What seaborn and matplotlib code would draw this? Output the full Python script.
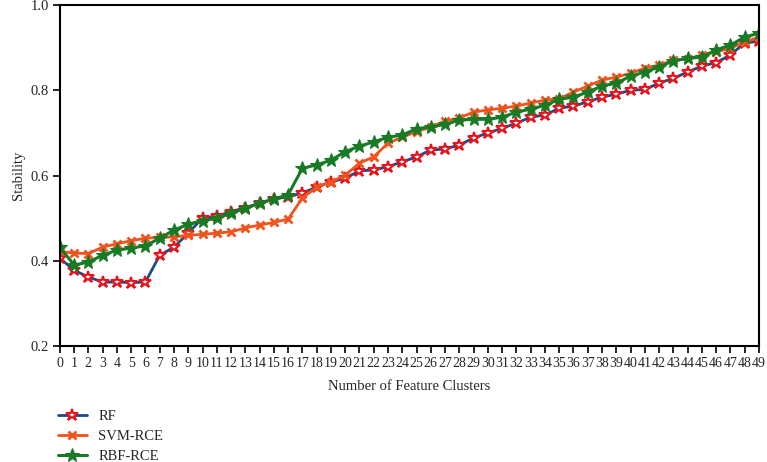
import numpy as np
import pandas as pd
import matplotlib
matplotlib.use("Agg")
import matplotlib.pyplot as plt
import seaborn as sns

clusters = list(range(50))

rf = [0.406, 0.378, 0.362, 0.350, 0.350, 0.349, 0.350, 0.413, 0.432, 0.465,
      0.500, 0.505, 0.515, 0.525, 0.535, 0.545, 0.550, 0.559, 0.573, 0.585,
      0.594, 0.611, 0.613, 0.621, 0.632, 0.644, 0.660, 0.662, 0.672, 0.688,
      0.700, 0.711, 0.723, 0.737, 0.742, 0.758, 0.763, 0.773, 0.784, 0.791,
      0.800, 0.802, 0.817, 0.828, 0.843, 0.857, 0.865, 0.883, 0.911, 0.915]

svm_rce = [0.422, 0.418, 0.417, 0.432, 0.440, 0.447, 0.453, 0.455, 0.456, 0.460,
           0.462, 0.465, 0.468, 0.477, 0.484, 0.490, 0.498, 0.547, 0.573, 0.585,
           0.601, 0.629, 0.644, 0.676, 0.690, 0.703, 0.714, 0.728, 0.735, 0.749,
           0.754, 0.758, 0.763, 0.770, 0.777, 0.780, 0.796, 0.810, 0.824, 0.831,
           0.840, 0.852, 0.859, 0.871, 0.873, 0.883, 0.890, 0.899, 0.913, 0.925]

rbf_rce = [0.432, 0.390, 0.397, 0.413, 0.425, 0.430, 0.435, 0.453, 0.472, 0.486,
           0.494, 0.500, 0.512, 0.523, 0.535, 0.545, 0.555, 0.617, 0.625, 0.636,
           0.656, 0.669, 0.679, 0.690, 0.695, 0.710, 0.714, 0.720, 0.730, 0.732,
           0.732, 0.737, 0.749, 0.756, 0.765, 0.779, 0.784, 0.796, 0.810, 0.817,
           0.833, 0.843, 0.855, 0.869, 0.875, 0.878, 0.895, 0.906, 0.925, 0.934]

sns.set_theme(style="ticks")
plt.rcParams['font.family'] = ['Liberation Serif', 'DejaVu Serif']

fig = plt.figure(figsize=(7.67, 4.62), dpi=100)
ax = fig.add_axes([0.078, 0.251, 0.9115, 0.738])

# RF: blue line with hollow red stars
sns.lineplot(x=clusters, y=rf, ax=ax, color="#1a4b8c", linewidth=2,
             marker="*", markersize=9, markerfacecolor="white",
             markeredgecolor="#e8121c", markeredgewidth=1.5, label="RF")
sns.lineplot(x=clusters, y=svm_rce, ax=ax, color="#f0531c", linewidth=2,
             marker="x", markersize=6, markeredgewidth=2,
             markeredgecolor="#f0531c", label="SVM-RCE")
sns.lineplot(x=clusters, y=rbf_rce, ax=ax, color="#177a25", linewidth=2.2,
             marker="*", markersize=10, markerfacecolor="#177a25",
             markeredgecolor="#177a25", label="RBF-RCE")

ax.set_xlim(0, 49)
ax.set_ylim(0.2, 1.0)
ax.set_xticks(clusters)
ax.set_xticklabels([str(c) for c in clusters], fontsize=10)
ax.set_yticks([0.2, 0.4, 0.6, 0.8, 1.0])
ax.set_yticklabels(["0.2", "0.4", "0.6", "0.8", "1.0"], fontsize=10.5)
ax.tick_params(axis="both", direction="out", length=5, width=1.2, color="black", pad=3)
for s in ax.spines.values():
    s.set_linewidth(1.5)
    s.set_color("black")
ax.set_xlabel("Number of Feature Clusters", fontsize=10.5, labelpad=7)
ax.set_ylabel("Stability", fontsize=10.5)

handles, labels = ax.get_legend_handles_labels()
ax.get_legend().remove()
fig.legend(handles, labels, loc="lower left", bbox_to_anchor=(0.058, -0.03),
           frameon=False, fontsize=10.5, handlelength=2.0, labelspacing=0.45)

fig.savefig("out.png", dpi=100)
